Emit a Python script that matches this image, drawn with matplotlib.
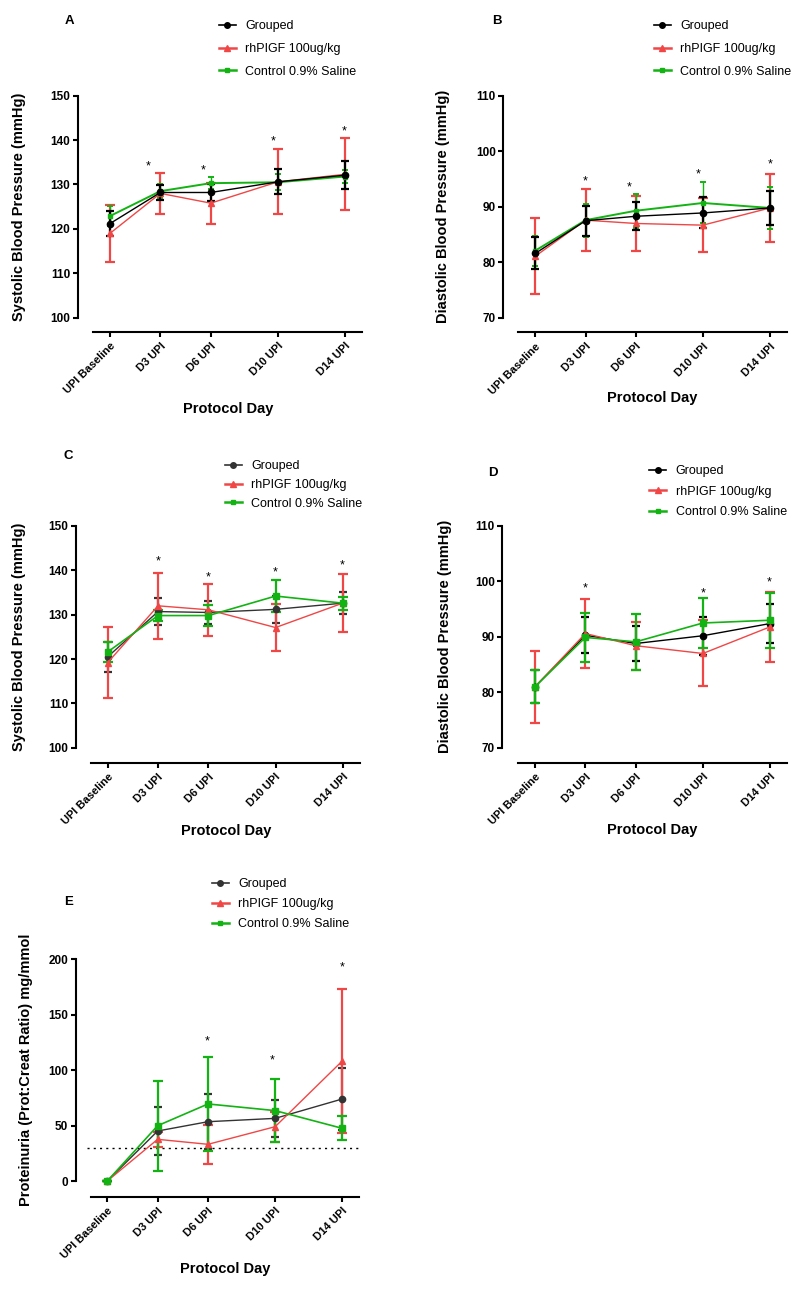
import numpy as np
import matplotlib
matplotlib.use("Agg")
import matplotlib.pyplot as plt
from matplotlib.lines import Line2D

plt.rcParams['font.family'] = ['Liberation Sans', 'DejaVu Sans']

W, H = 800, 1289

days = [0, 3, 6, 10, 14]
day_labels = ['UPI Baseline', 'D3 UPI', 'D6 UPI', 'D10 UPI', 'D14 UPI']
series_names = ['Grouped', 'rhPIGF 100ug/kg', 'Control 0.9% Saline']

# A - systolic
a_grp = [121.2, 128.2, 128.2, 130.6, 132.1]
a_grp_err = [2.8, 1.7, 2.0, 2.8, 3.1]
a_pgf = [119.0, 128.0, 125.8, 130.6, 132.3]
a_pgf_err = [6.4, 4.6, 4.6, 7.3, 8.1]
a_ctl = [122.9, 128.5, 130.3, 130.5, 131.8]
a_ctl_err = [2.3, 1.5, 1.3, 1.8, 1.5]
a_star_x = [2.3, 5.55, 9.7, 13.95]
a_star_y = [134.0, 133.2, 139.6, 142.0]

# B - diastolic
b_grp = [81.6, 87.5, 88.3, 88.9, 89.8]
b_grp_err = [2.9, 2.7, 2.5, 2.8, 3.1]
b_pgf = [81.1, 87.6, 87.0, 86.7, 89.8]
b_pgf_err = [6.9, 5.6, 5.0, 4.9, 6.1]
b_ctl = [82.1, 87.6, 89.3, 90.7, 89.8]
b_ctl_err = [2.7, 3.0, 3.1, 3.7, 3.8]
b_star_x = [3.0, 5.6, 9.7, 14.0]
b_star_y = [94.5, 93.5, 95.9, 97.7]

# C - systolic
c_grp = [120.5, 130.7, 130.5, 131.2, 132.6]
c_grp_err = [3.4, 3.1, 2.6, 3.0, 2.5]
c_pgf = [119.2, 132.0, 131.1, 127.1, 132.6]
c_pgf_err = [8.0, 7.5, 5.8, 5.2, 6.6]
c_ctl = [121.6, 129.8, 129.8, 134.2, 132.6]
c_ctl_err = [2.2, 1.3, 2.4, 3.7, 1.5]
c_star_x = [3.0, 6.0, 10.0, 13.95]
c_star_y = [142.0, 138.3, 139.6, 141.1]

# D - diastolic
d_grp = [81.0, 90.3, 88.8, 90.2, 92.4]
d_grp_err = [3.0, 3.3, 3.2, 3.4, 3.5]
d_pgf = [81.0, 90.6, 88.4, 87.0, 91.8]
d_pgf_err = [6.5, 6.25, 4.3, 5.95, 6.3]
d_ctl = [81.0, 89.9, 89.1, 92.5, 93.0]
d_ctl_err = [3.0, 4.4, 5.0, 4.5, 5.0]
d_star_x = [3.0, 10.0, 13.95]
d_star_y = [98.8, 97.8, 99.9]

# E - proteinuria
e_grp = [0.0, 45.1, 53.5, 56.5, 74.0]
e_grp_err = [0.0, 22.0, 24.7, 17.0, 27.7]
e_pgf = [0.0, 37.6, 33.1, 49.0, 108.3]
e_pgf_err = [0.0, 6.5, 17.8, 13.5, 65.0]
e_ctl = [0.0, 49.9, 69.5, 63.5, 47.5]
e_ctl_err = [0.0, 40.7, 42.0, 28.7, 10.8]
e_star_x = [5.95, 9.85, 14.0]
e_star_y = [126.0, 108.6, 192.8]
e_threshold = 30

red = '#F04646'
green = '#12B312'


def fx(px):
    return px / W


def fy(py):
    return 1 - py / H


fig = plt.figure(figsize=(W / 100, H / 100), dpi=100)


def panel(letter, layout, yticks, ylabel, grp, pgf, ctl, star_x, star_y,
          grp_color, grp_top, leg):
    yax, base, d14, xline_y, ytop_px, ybot_px, xl0, xl1 = layout
    vbot, vtop = yticks[0], yticks[-1]
    right = xl1 + 1
    ax = fig.add_axes([fx(yax), fy(xline_y), (right - yax) / W, (xline_y - ytop_px) / H])
    ppd = (d14 - base) / 14
    ppv = (ybot_px - ytop_px) / (vtop - vbot)
    ax.set_xlim((yax - base) / ppd, (right - base) / ppd)
    ax.set_ylim(vbot - (xline_y - ybot_px) / ppv, vtop)
    for s in ['top', 'right']:
        ax.spines[s].set_visible(False)
    ax.spines['left'].set_bounds(vbot, vtop)
    ax.spines['bottom'].set_bounds((xl0 - base) / ppd, (xl1 - base) / ppd)
    for s in ['left', 'bottom']:
        ax.spines[s].set_linewidth(1.5)
    ax.set_yticks(yticks)
    ax.set_xticks(days)
    ax.set_xticklabels(day_labels, rotation=45, ha='right', rotation_mode='anchor',
                       fontsize=8, fontweight='bold')
    for t in ax.get_yticklabels():
        t.set_fontweight('bold')
        t.set_fontsize(8.5)
    ax.tick_params(axis='y', length=3.5, width=1.5, pad=2)
    ax.tick_params(axis='x', length=3.5, width=1.5, pad=3)

    g_kw = dict(color=grp_color, marker='o', ms=4.5, lw=1.0, elinewidth=1.6,
                capsize=3, capthick=1.6)
    r_kw = dict(color=red, marker='^', ms=5, lw=1.0, elinewidth=1.6,
                capsize=3.5, capthick=1.6)
    c_kw = dict(color=green, marker='s', ms=3 if grp_top else 5,
                lw=1.4 if grp_top else 1.2, elinewidth=1.0 if grp_top else 1.6,
                capsize=2.5 if grp_top else 3.5, capthick=1.4 if grp_top else 1.6)
    if grp_top:
        ax.errorbar(days, pgf[0], yerr=pgf[1], **r_kw)
        ax.errorbar(days, ctl[0], yerr=ctl[1], **c_kw)
        ax.errorbar(days, grp[0], yerr=grp[1], **g_kw)
    else:
        ax.errorbar(days, grp[0], yerr=grp[1], **g_kw)
        ax.errorbar(days, pgf[0], yerr=pgf[1], **r_kw)
        ax.errorbar(days, ctl[0], yerr=ctl[1], **c_kw)

    for sx, sy in zip(star_x, star_y):
        ax.text(sx, sy, '*', ha='center', va='center', fontsize=9)

    # labels
    lx, ly, bx, by, px_, py_ = leg['labels']
    fig.text(fx(lx), fy(ly), ylabel, rotation=90, ha='center', va='center',
             fontsize=10.5, fontweight='bold')
    fig.text(fx(bx), fy(by), 'Protocol Day', ha='center', va='center',
             fontsize=10.5, fontweight='bold')
    fig.text(fx(px_), fy(py_), letter, ha='center', va='center',
             fontsize=9.5, fontweight='bold')

    handles = [
        Line2D([], [], color=grp_color, marker='o', ms=4, lw=1.2),
        Line2D([], [], color=red, marker='^', ms=5, lw=1.8),
        Line2D([], [], color=green, marker='s', ms=3.5, lw=1.8),
    ]
    hx, hy, spacing = leg['box']
    fig.legend(handles, series_names, loc='upper left',
               bbox_to_anchor=(fx(hx), fy(hy)), frameon=False, borderpad=0,
               borderaxespad=0, fontsize=9, handlelength=1.35,
               handletextpad=0.75, labelspacing=spacing)
    return ax


bp_sys = [100, 110, 120, 130, 140, 150]
bp_dia = [70, 80, 90, 100, 110]
prot = [0, 50, 100, 150, 200]

panel('A', (77.7, 110, 345, 332, 95.7, 317.7, 93, 362), bp_sys,
      'Systolic Blood Pressure (mmHg)',
      (a_grp, a_grp_err), (a_pgf, a_pgf_err), (a_ctl, a_ctl_err),
      a_star_x, a_star_y, 'black', True,
      dict(labels=(19, 206.7, 227.7, 409.3, 69, 20.7), box=(219, 20.5, 0.85)))

panel('B', (503.3, 535.3, 770, 332.3, 96, 317.7, 518.3, 787.3), bp_dia,
      'Diastolic Blood Pressure (mmHg)',
      (b_grp, b_grp_err), (b_pgf, b_pgf_err), (b_ctl, b_ctl_err),
      b_star_x, b_star_y, 'black', True,
      dict(labels=(442.7, 206.7, 652.3, 398.3, 496.7, 20.7), box=(654, 20.5, 0.85)))

panel('C', (76, 107.7, 342.7, 762.7, 526, 747.7, 91, 360), bp_sys,
      'Systolic Blood Pressure (mmHg)',
      (c_grp, c_grp_err), (c_pgf, c_pgf_err), (c_ctl, c_ctl_err),
      c_star_x, c_star_y, '#333333', False,
      dict(labels=(19, 636.7, 225.7, 830.7, 68.3, 455.7), box=(225, 460, 0.55)))

panel('D', (502.3, 535, 770, 762.7, 526, 747.7, 518.3, 787.3), bp_dia,
      'Diastolic Blood Pressure (mmHg)',
      (d_grp, d_grp_err), (d_pgf, d_pgf_err), (d_ctl, d_ctl_err),
      d_star_x, d_star_y, 'black', False,
      dict(labels=(445, 636.7, 652.3, 830, 493.3, 473.3), box=(649.3, 465, 0.7)))

ax_e = panel('E', (76, 107.3, 342.3, 1196.7, 959.3, 1181, 90.7, 359.3), prot,
             'Proteinuria (Prot:Creat Ratio) mg/mmol',
             (e_grp, e_grp_err), (e_pgf, e_pgf_err), (e_ctl, e_ctl_err),
             e_star_x, e_star_y, '#333333', False,
             dict(labels=(25.7, 1070, 225, 1269.3, 68.3, 901.7), box=(211.7, 878.5, 0.62)))
ax_e.axhline(e_threshold, xmin=(87 - 76) / (360.3 - 76), xmax=(358 - 76) / (360.3 - 76),
             color='black', lw=1.0, ls=(0, (1.5, 3)), zorder=0.5)

fig.savefig('out.png', dpi=100)
